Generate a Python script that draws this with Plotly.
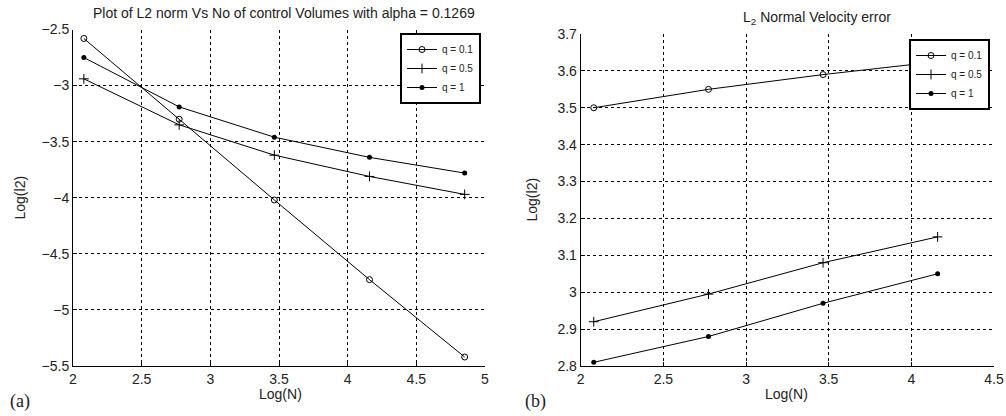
import plotly.graph_objects as go

# ---- data ----
x_a = [2.079, 2.773, 3.466, 4.159, 4.852]
a_q01 = [-2.58, -3.30, -4.02, -4.73, -5.42]
a_q05 = [-2.94, -3.35, -3.62, -3.81, -3.97]
a_q1 = [-2.75, -3.19, -3.46, -3.64, -3.78]

x_b = [2.079, 2.773, 3.466, 4.159]
b_q01 = [3.50, 3.55, 3.59, 3.625]
b_q05 = [2.92, 2.995, 3.08, 3.15]
b_q1 = [2.81, 2.88, 2.97, 3.05]

names = ["q = 0.1", "q = 0.5", "q = 1"]

W, H = 1006, 416
FONT = "Liberation Sans, Arial, sans-serif"
SERIF = "Liberation Serif, Times New Roman, serif"
TXT = "#222"

styles = [
    dict(symbol="circle-open", size=6, color="black", line=dict(width=1, color="black")),
    dict(symbol="cross-thin-open", size=7, color="black", line=dict(width=1, color="black")),
    dict(symbol="circle", size=5, color="black"),
]

fig = go.Figure()
for ys, name, st in zip([a_q01, a_q05, a_q1], names, styles):
    fig.add_trace(go.Scatter(x=x_a, y=ys, name=name, mode="lines+markers",
                             line=dict(color="black", width=1), marker=st,
                             xaxis="x", yaxis="y", legend="legend"))
for ys, name, st in zip([b_q01, b_q05, b_q1], names, styles):
    fig.add_trace(go.Scatter(x=x_b, y=ys, name=name, mode="lines+markers",
                             line=dict(color="black", width=1), marker=st,
                             xaxis="x2", yaxis="y2", legend="legend2"))

def px(v):
    return v / W

def py(v):
    return 1 - v / H

axis_common = dict(showgrid=True, gridcolor="black", griddash="dot", gridwidth=1,
                   showline=True, linecolor="black", linewidth=1, zeroline=False,
                   ticks="inside", ticklen=4, tickcolor="black", automargin=False,
                   tickfont=dict(family=FONT, size=14, color=TXT))

fig.update_layout(
    width=W, height=H, margin=dict(l=0, r=0, t=0, b=0, autoexpand=False),
    paper_bgcolor="white", plot_bgcolor="white",
    showlegend=True,
    xaxis=dict(domain=[px(73), px(485)], range=[2, 5], dtick=0.5, anchor="y", **axis_common),
    yaxis=dict(domain=[py(366), py(29.5)], range=[-5.5, -2.5], dtick=0.5, anchor="x", **axis_common),
    xaxis2=dict(domain=[px(580.7), px(994)], range=[2, 4.5], dtick=0.5, anchor="y2", **axis_common),
    yaxis2=dict(domain=[py(366), py(34)], range=[2.8, 3.7], dtick=0.1, anchor="x2", **axis_common),
    legend=dict(x=px(481), y=py(33), xanchor="right", yanchor="top",
                bgcolor="white", bordercolor="black", borderwidth=2,
                font=dict(family=FONT, size=10, color=TXT), tracegroupgap=0,
                itemwidth=30),
    legend2=dict(x=px(990), y=py(39), xanchor="right", yanchor="top",
                 bgcolor="white", bordercolor="black", borderwidth=2,
                 font=dict(family=FONT, size=10, color=TXT), tracegroupgap=0,
                 itemwidth=30),
    annotations=[
        dict(text="Plot of L2 norm Vs No of control Volumes with alpha = 0.1269",
             x=px(284), y=py(13), xref="paper", yref="paper", showarrow=False,
             xanchor="center", yanchor="middle",
             font=dict(family=FONT, size=14, color=TXT)),
        dict(text="L<sub>2</sub> Normal Velocity error",
             x=px(817), y=py(18), xref="paper", yref="paper", showarrow=False,
             xanchor="center", yanchor="middle",
             font=dict(family=FONT, size=14, color=TXT)),
        dict(text="Log(N)", x=px(280), y=py(394), xref="paper", yref="paper", showarrow=False,
             xanchor="center", yanchor="middle", font=dict(family=FONT, size=14, color=TXT)),
        dict(text="Log(N)", x=px(786), y=py(394), xref="paper", yref="paper", showarrow=False,
             xanchor="center", yanchor="middle", font=dict(family=FONT, size=14, color=TXT)),
        dict(text="Log(l2)", x=px(19.5), y=py(198), xref="paper", yref="paper", showarrow=False,
             textangle=-90, xanchor="center", yanchor="middle",
             font=dict(family=FONT, size=14, color=TXT)),
        dict(text="Log(l2)", x=px(531.5), y=py(200), xref="paper", yref="paper", showarrow=False,
             textangle=-90, xanchor="center", yanchor="middle",
             font=dict(family=FONT, size=14, color=TXT)),
        dict(text="(a)", x=px(20), y=py(401), xref="paper", yref="paper", showarrow=False,
             xanchor="center", yanchor="middle", font=dict(family=SERIF, size=18, color=TXT)),
        dict(text="(b)", x=px(535), y=py(401), xref="paper", yref="paper", showarrow=False,
             xanchor="center", yanchor="middle", font=dict(family=SERIF, size=18, color=TXT)),
    ],
)

fig.write_html("out.html", config={"displayModeBar": False},
               post_script="document.body.style.margin='0';document.body.style.overflow='hidden';")
